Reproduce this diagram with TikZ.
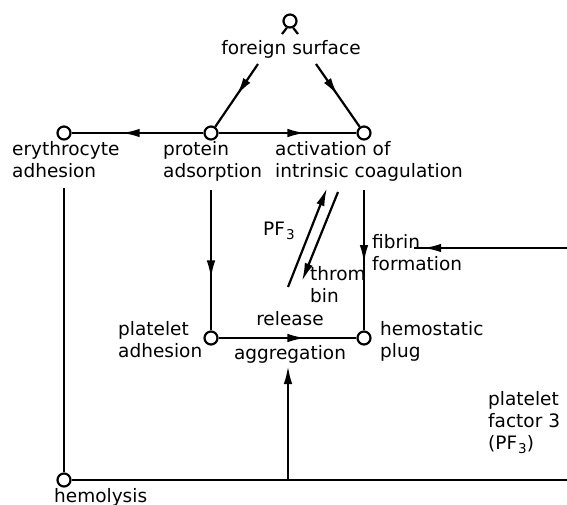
\documentclass[tikz,border=0pt]{standalone}
\usepackage{fontspec}
\setmainfont{DejaVu Sans}
\usetikzlibrary{arrows.meta,decorations.markings}
\newcommand\pfsub{\kern1pt\raisebox{-4pt}{\fontsize{13.5}{13.5}\selectfont 3}}
\begin{document}
\begin{tikzpicture}[x=1pt,y=-1pt,
  every node/.style={inner sep=0pt},
  lbl/.style={font=\fontsize{18.5}{22}\selectfont, align=left, anchor=north west},
  dot/.style={circle, draw, fill=white, line width=2.2pt, minimum size=13pt},
  conn/.style={line width=2.2pt},
  tip/.style={-{Latex[length=18pt,width=8.5pt]}},
  midarrow/.style={postaction={decorate}, decoration={markings, mark=at position #1 with {\arrow{Latex[length=18pt,width=8.5pt]}}}}
]
\useasboundingbox (0,0) rectangle (567,505);
% nodes
\node[dot] (ery) at (64,133) {};
\node[dot] (prot) at (211,133) {};
\node[dot] (act) at (364,133) {};
\node[dot] (padh) at (211,338) {};
\node[dot] (hemo) at (364,338) {};
\node[dot] (lys) at (64,480) {};
\node[circle, draw, line width=2.2pt, minimum size=13pt] (fsym) at (290,21) {};
\coordinate (legl) at (282,34);
\coordinate (legr) at (298,34);
\draw[conn] (fsym.245) -- (legl);
\draw[conn] (fsym.295) -- (legr);
% labels
\node[lbl, anchor=base] (fs) at (291,55) {foreign surface};
\node[lbl] (eryl) at (12,141) {erythrocyte\\adhesion};
\node[lbl] (protl) at (163,141) {protein\\adsorption};
\node[lbl] (actl) at (275,141) {activation of\\intrinsic coagulation};
\node[lbl, anchor=base west] (pfl) at (263,235) {PF\pfsub};
\node[lbl] (thl) at (310,266) {throm\\bin};
\node[lbl] (fibl) at (372,234) {fibrin\\formation};
\node[lbl, anchor=base] (rell) at (290,325) {release};
\node[lbl, anchor=base] (aggl) at (290,359) {aggregation};
\node[lbl] (padhl) at (118,321) {platelet\\adhesion};
\node[lbl] (hemol) at (380,321) {hemostatic\\plug};
\node[lbl] (pf3l) at (488,391) {platelet\\factor 3\\(PF\pfsub)};
\node[lbl, anchor=base west] (lysl) at (54,502) {hemolysis};
% connectors
\coordinate (fsl) at (258,64);
\coordinate (fsr) at (316,64);
\draw[conn, midarrow=0.5] (fsl) -- (prot);
\draw[conn, midarrow=0.5] (fsr) -- (act);
\draw[conn, midarrow=0.62] (prot) -- (ery);
\draw[conn, midarrow=0.63] (prot) -- (act);
\coordinate (eryb) at (64,188);
\draw[conn] (eryb) -- (lys);
\coordinate (protb) at (211,190);
\draw[conn, midarrow=0.63] (protb) -- (padh);
\coordinate (actb) at (364,190);
\draw[conn, midarrow=0.52] (actb) -- (hemo);
\coordinate (pf0) at (288,287);
\coordinate (pf1) at (327,188);
\draw[conn, tip] (pf0) -- (pf1);
\coordinate (th0) at (338,192);
\coordinate (th1) at (302,281);
\draw[conn, tip] (th0) -- (th1);
\coordinate (fibR) at (567,248);
\coordinate (fibL) at (414,248);
\draw[conn, midarrow=0.94] (fibR) -- (fibL);
\draw[conn, midarrow=0.63] (padh) -- (hemo);
\coordinate (botR) at (567,480);
\draw[conn] (lys) -- (botR);
\coordinate (aggB) at (288,480);
\coordinate (aggT) at (288,366);
\draw[conn, tip] (aggB) -- (aggT);
\end{tikzpicture}
\end{document}
